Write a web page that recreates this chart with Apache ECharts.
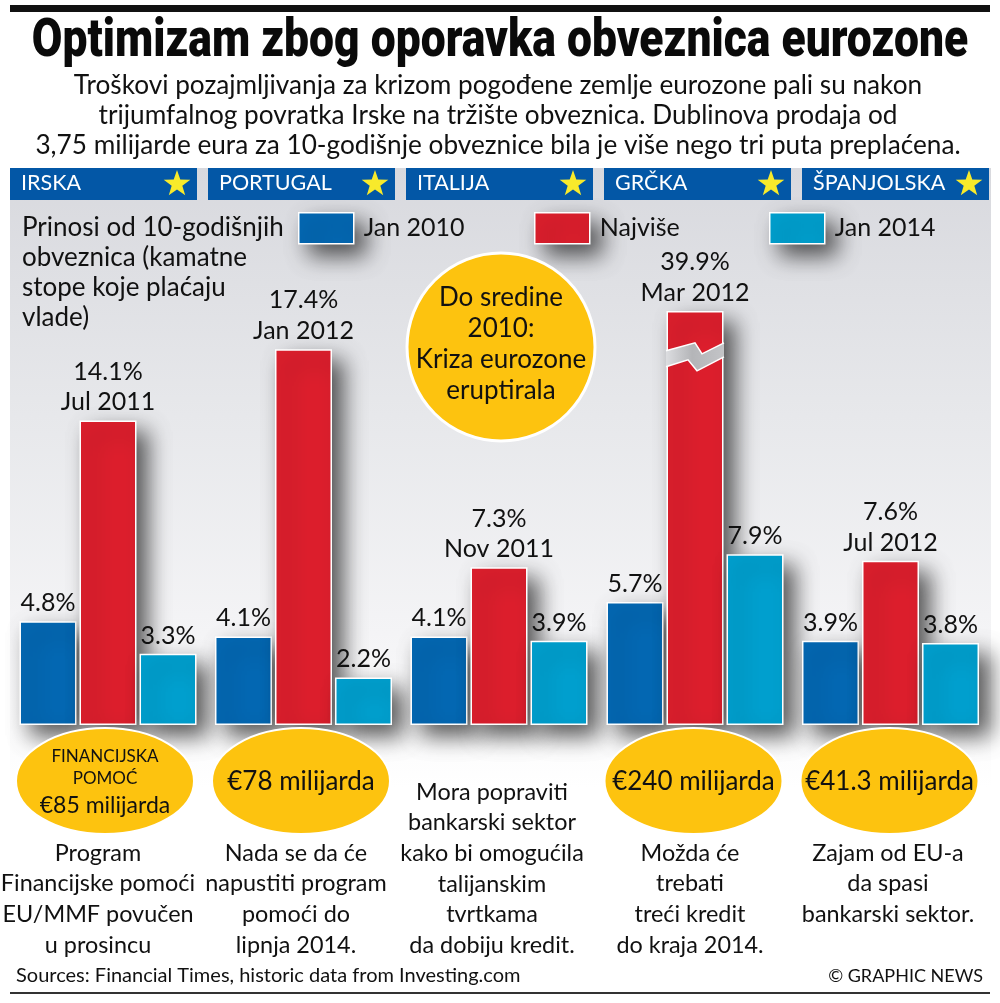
<!DOCTYPE html>
<html>
<head>
<meta charset="utf-8">
<title>Optimizam zbog oporavka obveznica eurozone</title>
<style>
html, body { margin: 0; padding: 0; background: #fff; }
#chart { width: 1000px; height: 1003px; }
</style>
</head>
<body>
<div id="chart"></div>
<script src="https://cdn.jsdelivr.net/npm/echarts@6/dist/echarts.min.js"></script>
<script>
var countries = ['IRSKA', 'PORTUGAL', 'ITALIJA', 'GRČKA', 'ŠPANJOLSKA'];
var jan2010 = [4.8, 4.1, 4.1, 5.7, 3.9];
var peak = [14.1, 17.4, 7.3, 39.9, 7.6];
var peakDates = ['Jul 2011', 'Jan 2012', 'Nov 2011', 'Mar 2012', 'Jul 2012'];
var jan2014 = [3.3, 2.2, 3.9, 7.9, 3.8];
var seriesNames = ['Jan 2010', 'Najviše', 'Jan 2014'];

var titleText = 'Optimizam zbog oporavka obveznica eurozone';
var introLines = [
    'Troškovi pozajmljivanja za krizom pogođene zemlje eurozone pali su nakon',
    'trijumfalnog povratka Irske na tržište obveznica. Dublinova prodaja od',
    '3,75 milijarde eura za 10-godišnje obveznice bila je više nego tri puta preplaćena.'
];
var yieldNote = ['Prinosi od 10-godišnjih', 'obveznica (kamatne', 'stope koje plaćaju', 'vlade)'];
var crisisNote = ['Do sredine', '2010:', 'Kriza eurozone', 'eruptirala'];
var aidAmounts = ['€85 milijarda', '€78 milijarda', null, '€240 milijarda', '€41.3 milijarda'];
var notes = [
    ['Program', 'Financijske pomoći', 'EU/MMF povučen', 'u prosincu'],
    ['Nada se da će', 'napustiti program', 'pomoći do', 'lipnja 2014.'],
    ['Mora popraviti', 'bankarski sektor', 'kako bi omogućila', 'talijanskim', 'tvrtkama', 'da dobiju kredit.'],
    ['Možda će', 'trebati', 'treći kredit', 'do kraja 2014.'],
    ['Zajam od EU-a', 'da spasi', 'bankarski sektor.']
];
var sourceText = 'Sources: Financial Times, historic data from Investing.com';
var creditText = '© GRAPHIC NEWS';

// axis break for Greece, peak is way off the common scale
var greeceBreak = { start: 17, end: 37.73, gap: 0 };

var FONT = 'Lato, "Open Sans", sans-serif';
var colors = ['#0468b3', '#dd1f2d', '#00a0cf'];
var YELLOW = '#fdc30f';
var BASELINE = 725;
var PX_PER_PCT = 21.6;
var GROUP_LEFT = [10, 205.5, 401, 597, 792.5];
var GROUP_W = 196;
var HEADER_LEFT = [10, 208, 406, 604, 802];
var AID_CX = [105, 301, null, 693.5, 889.5];
var NOTE_CX = [98, 296, 492, 690, 888];
var LEGEND_LEFT = [298, 534, 769];

var chart = echarts.init(document.getElementById('chart'));

function txt(text, x, y, size, opts) {
    opts = opts || {};
    return {
        type: 'text', x: x, y: y, z: opts.z || 20, silent: true,
        scaleX: opts.scaleX || 1,
        style: {
            text: text,
            fill: opts.fill || '#111',
            font: (opts.weight || 'normal') + ' ' + size + 'px ' + (opts.family || FONT),
            textAlign: opts.align || 'center',
            textVerticalAlign: 'middle'
        }
    };
}

function starPoints(cx, cy, r) {
    var pts = [];
    for (var i = 0; i < 10; i++) {
        var rad = i % 2 ? r * 0.4 : r;
        var a = -Math.PI / 2 + i * Math.PI / 5;
        pts.push([cx + rad * Math.cos(a), cy + rad * Math.sin(a)]);
    }
    return pts;
}

var graphics = [];
// grey panel behind the chart, fades out to white
graphics.push({
    type: 'rect', z: -10, silent: true,
    shape: { x: 10, y: 168, width: 981, height: 620 },
    style: {
        fill: new echarts.graphic.LinearGradient(0, 0, 0, 1, [
            { offset: 0, color: '#d8d9de' },
            { offset: 0.4, color: '#e7e8eb' },
            { offset: 0.75, color: '#f4f4f6' },
            { offset: 1, color: '#ffffff' }
        ])
    }
});
graphics.push({ type: 'rect', z: 5, silent: true, shape: { x: 10, y: 5, width: 980, height: 7 }, style: { fill: '#111' } });
graphics.push({ type: 'rect', z: 5, silent: true, shape: { x: 10, y: 992, width: 980, height: 2 }, style: { fill: '#333' } });

graphics.push(txt(titleText, 500, 43, 53, { weight: '900', family: 'Roboto, sans-serif', scaleX: 0.838, fill: '#0a0a0a' }));
introLines.forEach(function (line, i) {
    graphics.push(txt(line, 498, 86 + i * 30, 26.2));
});

countries.forEach(function (name, i) {
    var left = HEADER_LEFT[i];
    graphics.push({ type: 'rect', z: 5, silent: true, shape: { x: left, y: 168, width: 187, height: 32 }, style: { fill: '#0357a6' } });
    graphics.push(txt(name, left + 11, 183, 21.5, { align: 'left', fill: '#fff' }));
    graphics.push({ type: 'polygon', z: 6, silent: true, shape: { points: starPoints(left + 167, 184, 14) }, style: { fill: '#f8ea2b' } });
});

yieldNote.forEach(function (line, i) {
    graphics.push(txt(line, 22, 228 + i * 30, 26, { align: 'left' }));
});

graphics.push({
    type: 'circle', z: 10, silent: true,
    shape: { cx: 501, cy: 347, r: 94 },
    style: { fill: YELLOW, stroke: '#fff', lineWidth: 3 }
});
crisisNote.forEach(function (line, i) {
    graphics.push(txt(line, 501, 298 + i * 31, 26));
});

aidAmounts.forEach(function (amount, i) {
    if (!amount) return;
    graphics.push({
        type: 'ellipse', z: 10, silent: true,
        shape: { cx: AID_CX[i], cy: 781, rx: 89, ry: 53 },
        style: { fill: YELLOW, stroke: '#fff', lineWidth: 2 }
    });
    if (i === 0) {
        graphics.push(txt('FINANCIJSKA', AID_CX[i], 757, 17));
        graphics.push(txt('POMOĆ', AID_CX[i], 779, 17));
        graphics.push(txt(amount, AID_CX[i], 806, 23));
    } else {
        graphics.push(txt(amount, AID_CX[i], 782, 26));
    }
});

notes.forEach(function (lines, i) {
    var first = i === 2 ? 792 : 853;
    lines.forEach(function (line, j) {
        graphics.push(txt(line, NOTE_CX[i], first + j * 30.7, 23.4));
    });
});
graphics.push(txt(sourceText, 16, 976, 20, { align: 'left' }));
graphics.push(txt(creditText, 983, 976, 18, { align: 'right' }));

var barShadow = { shadowColor: 'rgba(0,0,0,0.65)', shadowBlur: 22, shadowOffsetX: 11, shadowOffsetY: 11 };
var grids = [], xAxes = [], yAxes = [], series = [];

countries.forEach(function (name, i) {
    var isGreece = i === 3;
    var span = isGreece ? 40 - (greeceBreak.end - greeceBreak.start) : 20;
    var h = span * PX_PER_PCT;
    grids.push({ left: GROUP_LEFT[i], width: GROUP_W, top: BASELINE - h, height: h });
    xAxes.push({ type: 'category', gridIndex: i, data: [name], show: false });
    var yAxis = { type: 'value', gridIndex: i, min: 0, max: isGreece ? 40 : 20, show: false, splitLine: { show: false } };
    if (isGreece) {
        yAxis.breaks = [greeceBreak];
        yAxis.breakArea = { show: false };
    }
    yAxes.push(yAxis);

    [jan2010, peak, jan2014].forEach(function (values, k) {
        series.push({
            name: seriesNames[k],
            type: 'bar',
            xAxisIndex: i,
            yAxisIndex: i,
            barWidth: 57,
            barGap: '5.3%',
            data: [values[i]],
            itemStyle: Object.assign({ color: colors[k], borderColor: '#fff', borderWidth: 1.5 }, barShadow),
            label: {
                show: true,
                position: 'top',
                distance: 3,
                fontFamily: FONT,
                fontSize: 25,
                lineHeight: 30.5,
                color: '#111',
                formatter: k === 1 ? values[i] + '%\n' + peakDates[i] : values[i] + '%'
            }
        });
    });
});

// the cut across the Greek peak bar, sits on the break value
series.push({
    type: 'custom',
    name: 'prekid',
    xAxisIndex: 3,
    yAxisIndex: 3,
    z: 8,
    silent: true,
    data: [[0, greeceBreak.start]],
    renderItem: function (params, api) {
        var c = api.coord([0, api.value(1)]);
        var upper = [[-29, -7], [0, -15], [7, -4], [29, -15]];
        var lower = [[-29, 9], [-7, 2], [2, 13], [29, -1]];
        function at(list) {
            return list.map(function (p) { return [c[0] + p[0], c[1] + p[1]]; });
        }
        return {
            type: 'group',
            children: [
                {
                    type: 'polygon',
                    shape: { points: at(upper.concat(lower.slice().reverse())) },
                    style: {
                        fill: new echarts.graphic.LinearGradient(0, 0, 1, 0, [
                            { offset: 0, color: '#dcdde0' },
                            { offset: 0.45, color: '#b4b5b8' },
                            { offset: 1, color: '#c3c4c7' }
                        ])
                    }
                },
                { type: 'polyline', shape: { points: at(upper) }, style: { stroke: '#fff', lineWidth: 1.5, fill: null } },
                { type: 'polyline', shape: { points: at(lower) }, style: { stroke: '#fff', lineWidth: 1.5, fill: null } }
            ]
        };
    }
});

var legends = seriesNames.map(function (name, i) {
    return {
        data: [name],
        left: LEGEND_LEFT[i],
        top: 212,
        padding: 0,
        itemWidth: 55,
        itemHeight: 31,
        icon: 'rect',
        selectedMode: false,
        itemStyle: Object.assign({ borderColor: '#fff', borderWidth: 1.5 }, barShadow),
        textStyle: { fontFamily: FONT, fontSize: 25, color: '#111', padding: [0, 0, 0, 5] }
    };
});

var option = {
    animation: false,
    backgroundColor: '#fff',
    tooltip: { show: false },
    legend: legends,
    grid: grids,
    xAxis: xAxes,
    yAxis: yAxes,
    series: series,
    graphic: { elements: graphics }
};
chart.setOption(option);
</script>
</body>
</html>
